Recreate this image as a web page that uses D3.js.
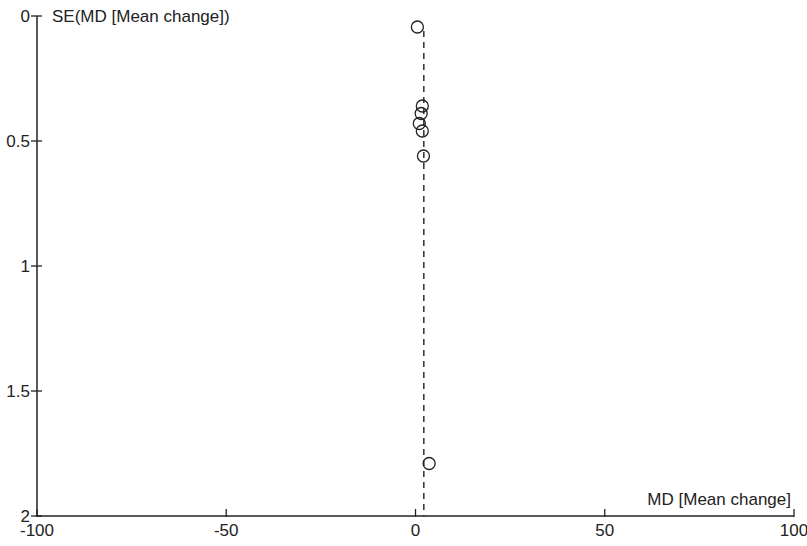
<!DOCTYPE html>
<html>
<head>
<meta charset="utf-8">
<script src="https://cdn.jsdelivr.net/npm/d3@7"></script>
<style>
  body { margin: 0; background: #fff; }
  text { font-family: "Liberation Sans", Arial, sans-serif; fill: #222; }
</style>
</head>
<body>
<svg id="chart"></svg>
<script>
// study estimates
const md = [0.5, 1.8, 1.5, 1.0, 1.8, 2.1, 3.6];
const se = [0.044, 0.36, 0.39, 0.43, 0.46, 0.56, 1.79];
const pooledMD = 2.2;
const xTicks = [-100, -50, 0, 50, 100];
const yTicks = [0, 0.5, 1, 1.5, 2];

const width = 807, height = 546;
const svg = d3.select("#chart").attr("width", width).attr("height", height);

const x = d3.scaleLinear().domain([-100, 100]).range([37, 794]);
const y = d3.scaleLinear().domain([0, 2]).range([16, 516]);
const ink = "#222";

// y axis
svg.append("line")
    .attr("x1", x(-100)).attr("x2", x(-100))
    .attr("y1", y(0)).attr("y2", y(2))
    .attr("stroke", ink).attr("stroke-width", 1.5);
svg.selectAll(".ytick").data(yTicks).join("line")
    .attr("x1", x(-100) - 6).attr("x2", x(-100) + 5)
    .attr("y1", d => y(d)).attr("y2", d => y(d))
    .attr("stroke", ink).attr("stroke-width", 1.3);
svg.selectAll(".ylab").data(yTicks).join("text")
    .attr("x", x(-100) - 7).attr("y", d => y(d))
    .attr("dy", "0.35em").attr("text-anchor", "end")
    .attr("font-size", 17)
    .text(d => d);

// x axis
svg.append("line")
    .attr("x1", x(-100)).attr("x2", x(100))
    .attr("y1", y(2)).attr("y2", y(2))
    .attr("stroke", ink).attr("stroke-width", 1.5);
svg.selectAll(".xtick").data(xTicks).join("line")
    .attr("x1", d => x(d)).attr("x2", d => x(d))
    .attr("y1", y(2) - 7).attr("y2", y(2) + 1)
    .attr("stroke", ink).attr("stroke-width", 1.3);
svg.selectAll(".xlab").data(xTicks).join("text")
    .attr("x", d => x(d)).attr("y", y(2) + 20)
    .attr("text-anchor", "middle")
    .attr("font-size", 17)
    .text(d => d);

// titles
svg.append("text")
    .attr("x", 52).attr("y", 22)
    .attr("font-size", 17)
    .text("SE(MD [Mean change])");
svg.append("text")
    .attr("x", 791).attr("y", 505)
    .attr("text-anchor", "end")
    .attr("font-size", 17)
    .text("MD [Mean change]");

// pooled estimate line
svg.append("line")
    .attr("x1", x(pooledMD)).attr("x2", x(pooledMD))
    .attr("y1", y(0.06)).attr("y2", y(2))
    .attr("stroke", ink).attr("stroke-width", 1.4)
    .attr("stroke-dasharray", "6,5");

// studies
svg.selectAll(".pt").data(md).join("circle")
    .attr("cx", d => x(d))
    .attr("cy", (d, i) => y(se[i]))
    .attr("r", 6)
    .attr("fill", "none")
    .attr("stroke", ink)
    .attr("stroke-width", 1.3);
</script>
</body>
</html>
